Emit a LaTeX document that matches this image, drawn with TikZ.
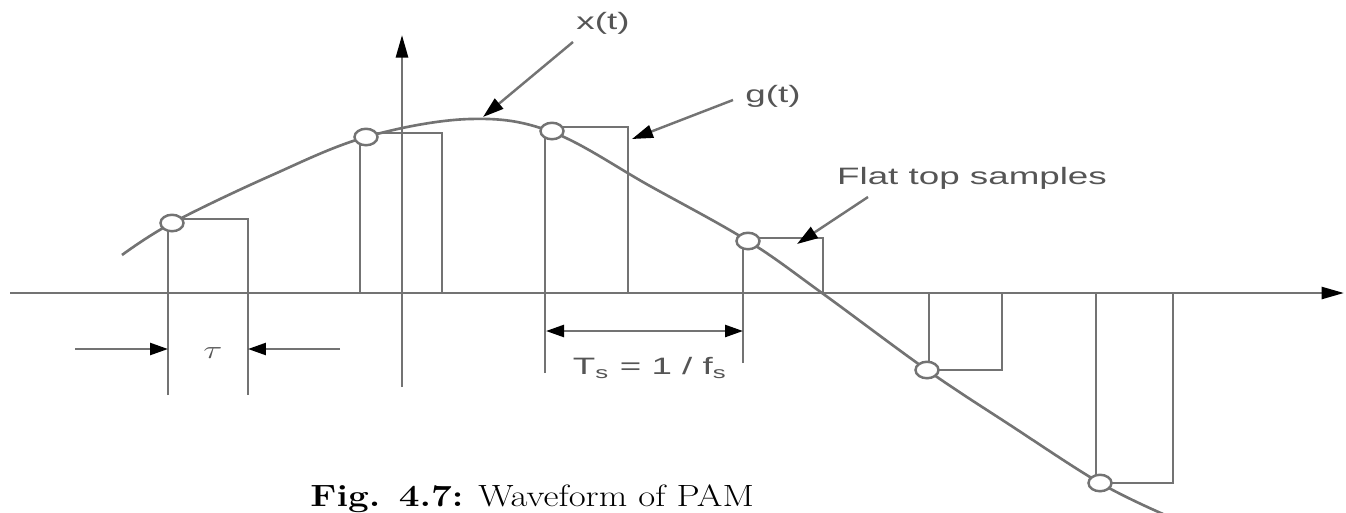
\documentclass[tikz,border=0pt]{standalone}
\usepackage{fontspec}
\usepackage{amsmath}
\usetikzlibrary{arrows.meta,shapes.geometric}
\newfontfamily\lblfont{Liberation Sans}
\definecolor{linegray}{RGB}{115,115,115}
\definecolor{textgray}{RGB}{85,85,85}

\tikzset{
  wave/.style={linegray, line width=1.5pt},
  pulse/.style={linegray, line width=1.6pt},
  smp/.style={ellipse, draw=linegray, line width=1.4pt, fill=white,
    minimum width=0.46cm, minimum height=0.33cm, inner sep=0pt},
  ptr/.style={linegray, line width=1.4pt,
    -{Triangle[length=0.42cm,width=0.26cm,color=black]}},
  dimtip/.style={linegray, line width=1.4pt,
    -{Triangle[length=0.36cm,width=0.24cm,color=black]}},
  lbl/.style={text=textgray, font=\lblfont\fontsize{13.5}{16}\selectfont,
    xscale=1.55, inner sep=0pt},
}

\begin{document}
\begin{tikzpicture}[x=0.02cm, y=-0.02cm]
        \useasboundingbox (0,0) rectangle (1346,512);
        % axes
        \draw[wave, -{Triangle[length=0.45cm,width=0.24cm,color=black]}] (10,293) -- (1344,293);
        \draw[wave, -{Triangle[length=0.45cm,width=0.24cm,color=black]}] (402,387) -- (402,35);
        % This draws the flat top pulses.
            \draw[pulse] (168,395) |- (248,219) -- (248,395);
            \draw[pulse] (360,293) |- (442,133) -- (442,293);
            \draw[pulse] (545,373) |- (628,127) -- (628,293);
            \draw[pulse] (743,363) |- (823,238) -- (823,293);
            \draw[pulse] (929,293) |- (1002,370) -- (1002,293);
            \draw[pulse] (1096,293) |- (1173,483) -- (1173,293);
        % the signal x(t)
        \draw[wave] plot[smooth, tension=0.6] coordinates {(122,255) (172,223) (270,176) (366,137)
            (470,119) (552,132) (650,186) (748,241) (822,293) (927,370) (1010,425) (1100,483) (1163,514)};
        % sample points
            \node[smp] (s1) at (172,223) {};
            \node[smp] (s2) at (366,137) {};
            \node[smp] (s3) at (552,131) {};
            \node[smp] (s4) at (748,241) {};
            \node[smp] (s5) at (927,370) {};
            \node[smp] (s6) at (1100,483) {};
        % Below nodes are the labels.
            \node[lbl] (xlab) at (603,23) {x(t)};
            \node[lbl] (glab) at (773,96) {g(t)};
            \node[lbl] (flat) at (972,178) {Flat top samples};
            \node[lbl] (tslab) at (650,368) {T$_\text{s}$ = 1 / f$_\text{s}$};
            \node[text=textgray, inner sep=0pt, xscale=1.4, font=\Large] (tau) at (213,353) {$\tau$};
            \node[anchor=north west, inner sep=0pt, xscale=1.2, font=\fontsize{17.5}{20}\selectfont] (cap) at (310,484)
                {\textbf{Fig. 4.7:} Waveform of PAM};
        % pointers from the labels
            \coordinate (xfrom) at (573,42);   \coordinate (xto) at (483,117);
            \coordinate (gfrom) at (733,100);  \coordinate (gto) at (632,139);
            \coordinate (ffrom) at (868,197);  \coordinate (fto) at (797,244);
            \draw[ptr] (xfrom) -- (xto);
            \draw[ptr] (gfrom) -- (gto);
            \draw[ptr] (ffrom) -- (fto);
        % tau and Ts markers
            \coordinate (ta) at (75,349);   \coordinate (tb) at (168,349);
            \coordinate (tc) at (340,349);  \coordinate (td) at (248,349);
            \draw[dimtip] (ta) -- (tb);
            \draw[dimtip] (tc) -- (td);
            \coordinate (pa) at (546,331);  \coordinate (pb) at (743,331);
            \draw[linegray, line width=1.4pt, {Triangle[length=0.36cm,width=0.24cm,color=black]}-{Triangle[length=0.36cm,width=0.24cm,color=black]}] (pa) -- (pb);
\end{tikzpicture}
\end{document}
